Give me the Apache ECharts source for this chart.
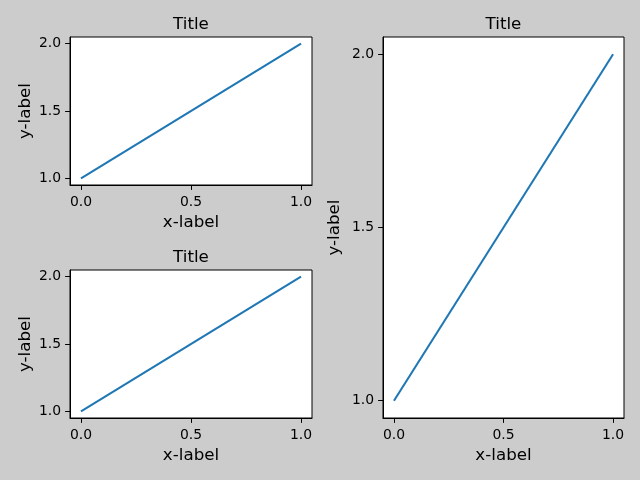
<!DOCTYPE html>
<html>
<head>
<meta charset="utf-8">
<script src="https://cdn.jsdelivr.net/npm/echarts@6/dist/echarts.min.js"></script>
<style>
html,body{margin:0;padding:0;background:#cccccc;}
#c{width:640px;height:480px;}
</style>
</head>
<body>
<div id="c"></div>
<script>
// Data
const xValues = [0, 1];
const yValues = [1, 2];
const xTicks = [0, 0.5, 1];
const yTicks = [1, 1.5, 2];
const titles = ['Title', 'Title', 'Title'];
const xLabel = 'x-label';
const yLabel = 'y-label';

const FONT = 'DejaVu Sans';
const grids = [
  {left: 70, top: 37, width: 242, height: 148},
  {left: 70, top: 270, width: 242, height: 148},
  {left: 383, top: 37, width: 241, height: 381}
];
const yNameGaps = [36, 36, 40];

const chart = echarts.init(document.getElementById('c'), null, {renderer: 'canvas'});
const fmt = v => Number(v).toFixed(1);

const option = {
  backgroundColor: '#cccccc',
  animation: false,
  title: grids.map((g, i) => ({
    text: titles[i],
    left: g.left + g.width / 2,
    top: g.top - 21,
    padding: 0,
    textAlign: 'center',
    textStyle: {fontFamily: FONT, fontSize: 16.7, fontWeight: 'normal', color: '#000'}
  })),
  grid: grids.map(g => ({
    left: g.left, top: g.top, width: g.width, height: g.height,
    show: true, backgroundColor: '#ffffff', borderColor: '#000', borderWidth: 1,
    containLabel: false
  })),
  xAxis: grids.map((g, i) => ({
    type: 'value', gridIndex: i, min: -0.05, max: 1.05,
    name: xLabel, nameLocation: 'middle', nameGap: 29,
    nameTextStyle: {fontFamily: FONT, fontSize: 16.7, color: '#000'},
    axisLine: {show: true, onZero: false, lineStyle: {color: '#000', width: 1}},
    axisTick: {show: true, length: 4.9, customValues: xTicks, lineStyle: {color: '#000', width: 1}},
    axisLabel: {customValues: xTicks, formatter: fmt, margin: 10, fontFamily: FONT, fontSize: 13.9, color: '#000'},
    splitLine: {show: false}
  })),
  yAxis: grids.map((g, i) => ({
    type: 'value', gridIndex: i, min: 0.95, max: 2.05,
    name: yLabel, nameLocation: 'middle', nameGap: yNameGaps[i],
    nameTextStyle: {fontFamily: FONT, fontSize: 16.7, color: '#000'},
    axisLine: {show: true, onZero: false, lineStyle: {color: '#000', width: 1}},
    axisTick: {show: true, length: 4.9, customValues: yTicks, lineStyle: {color: '#000', width: 1}},
    axisLabel: {customValues: yTicks, formatter: fmt, margin: 9, fontFamily: FONT, fontSize: 13.9, color: '#000'},
    splitLine: {show: false}
  })),
  series: grids.map((g, i) => ({
    type: 'line', xAxisIndex: i, yAxisIndex: i,
    data: xValues.map((x, k) => [x, yValues[k]]),
    symbol: 'none', lineStyle: {color: '#1f77b4', width: 2.08}, itemStyle: {color: '#1f77b4'}
  }))
};
chart.setOption(option);
</script>
</body>
</html>
